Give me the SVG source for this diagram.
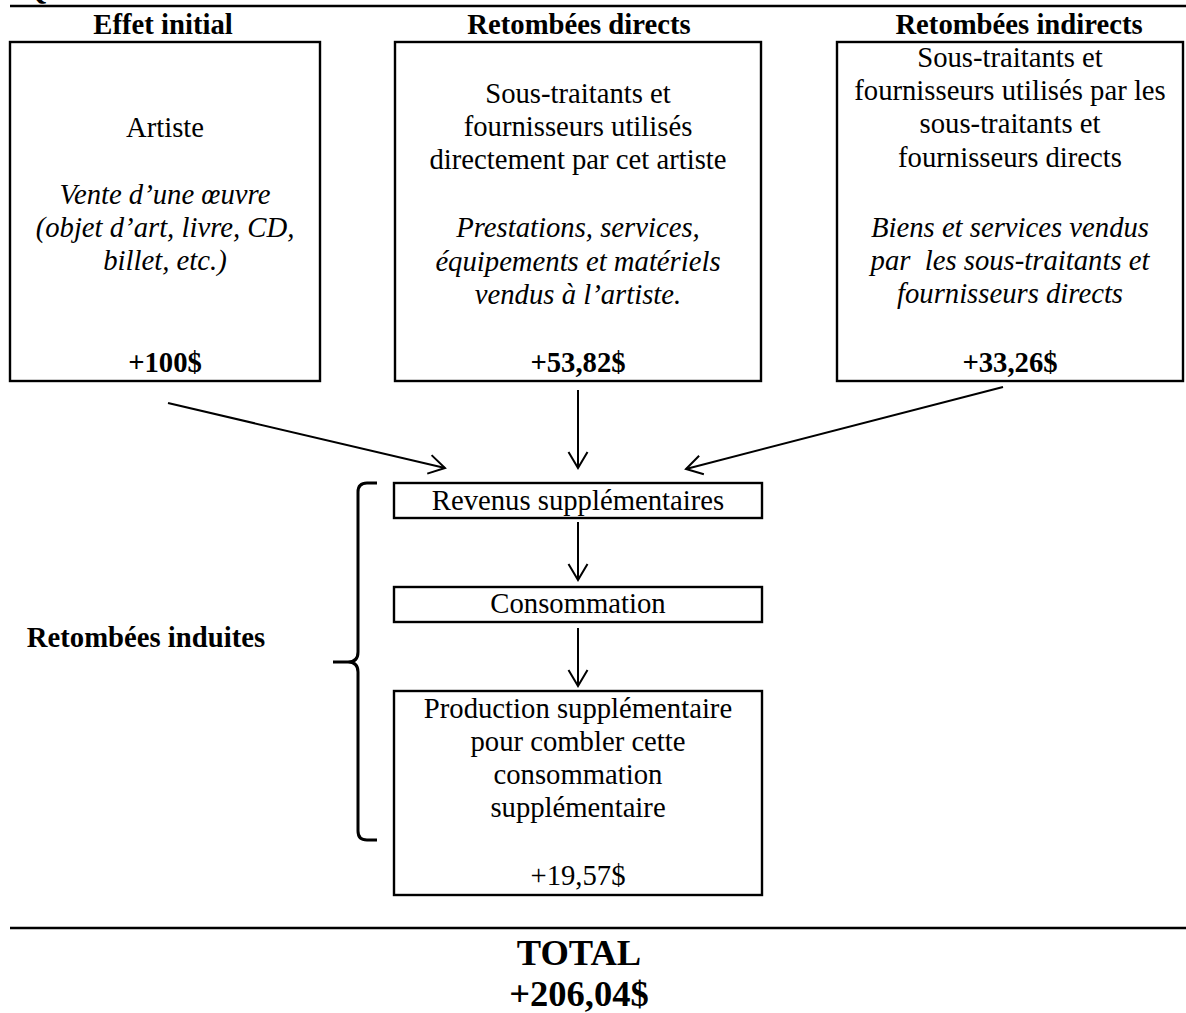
<svg xmlns="http://www.w3.org/2000/svg" width="1186" height="1013" viewBox="0 0 1186 1013">
<style>
text{font-family:"Liberation Serif","Times New Roman",serif;font-size:28.7px;fill:#000;text-anchor:middle}
.b{font-weight:bold}
.i{font-style:italic}
.box{fill:#fff;stroke:#000;stroke-width:2.4}
.rule{stroke:#000;stroke-width:2.5}
.conn{stroke:#000;stroke-width:2;fill:none}
</style>
<defs>
<marker id="arr" viewBox="-20 -12 24 24" refX="0" refY="0" markerWidth="24" markerHeight="24" markerUnits="userSpaceOnUse" orient="auto">
<path d="M-16,-9.5 L0,0 L-16,9.5" fill="none" stroke="#000" stroke-width="2" stroke-linejoin="miter"/>
</marker>
</defs>
<rect width="1186" height="1013" fill="#fff"/>
<text class="b" x="36" y="-1">Q</text>
<line class="rule" x1="10" y1="6" x2="1186" y2="6"/>
<g id="headers">
<text class="b" x="163" y="34">Effet initial</text>
<text class="b" x="579" y="34">Retombées directs</text>
<text class="b" x="1019" y="34">Retombées indirects</text>
</g>
<g id="node-initial">
<rect class="box" x="10" y="42" width="310" height="339"/>
<text x="165" y="137">Artiste</text>
<text class="i" x="165" y="204">Vente d’une œuvre</text>
<text class="i" x="165" y="237">(objet d’art, livre, CD,</text>
<text class="i" x="165" y="270">billet, etc.)</text>
<text class="b" x="165" y="372">+100$</text>
</g>
<g id="node-directs">
<rect class="box" x="395" y="42" width="366" height="339"/>
<text x="578" y="103">Sous-traitants et</text>
<text x="578" y="136">fournisseurs utilisés</text>
<text x="578" y="169">directement par cet artiste</text>
<text class="i" x="578" y="237">Prestations, services,</text>
<text class="i" x="578" y="271">équipements et matériels</text>
<text class="i" x="578" y="304">vendus à l’artiste.</text>
<text class="b" x="578" y="372">+53,82$</text>
</g>
<g id="node-indirects">
<rect class="box" x="837" y="42" width="346" height="339"/>
<text x="1010" y="67">Sous-traitants et</text>
<text x="1010" y="100">fournisseurs utilisés par les</text>
<text x="1010" y="133">sous-traitants et</text>
<text x="1010" y="167">fournisseurs directs</text>
<text class="i" x="1010" y="237">Biens et services vendus</text>
<text class="i" x="1010" y="270" style="white-space:pre">par  les sous-traitants et</text>
<text class="i" x="1010" y="303">fournisseurs directs</text>
<text class="b" x="1010" y="372">+33,26$</text>
</g>
<g id="node-revenus">
<rect class="box" x="394" y="483" width="368" height="35"/>
<text x="578" y="510">Revenus supplémentaires</text>
</g>
<g id="node-consommation">
<rect class="box" x="394" y="587" width="368" height="35"/>
<text x="578" y="613">Consommation</text>
</g>
<g id="node-production">
<rect class="box" x="394" y="691" width="368" height="204"/>
<text x="578" y="718">Production supplémentaire</text>
<text x="578" y="751">pour combler cette</text>
<text x="578" y="784">consommation</text>
<text x="578" y="817">supplémentaire</text>
<text x="578" y="885">+19,57$</text>
</g>
<g id="induites">
<path d="M377,483 H367 Q358,483 358,492 V652 Q358,662 348,662 H333 M348,662 Q358,662 358,672 V831 Q358,840 367,840 H377" fill="none" stroke="#000" stroke-width="3"/>
<text class="b" x="146" y="647">Retombées induites</text>
</g>
<g id="connectors">
<line class="conn" x1="168" y1="403" x2="445" y2="468" marker-end="url(#arr)"/>
<line class="conn" x1="578" y1="390" x2="578" y2="468" marker-end="url(#arr)"/>
<line class="conn" x1="1003" y1="387" x2="686" y2="469" marker-end="url(#arr)"/>
<line class="conn" x1="578" y1="522" x2="578" y2="580" marker-end="url(#arr)"/>
<line class="conn" x1="578" y1="628" x2="578" y2="686" marker-end="url(#arr)"/>
</g>
<line class="rule" x1="10" y1="928" x2="1186" y2="928"/>
<g id="total">
<text class="b" x="579" y="965" style="font-size:36.5px">TOTAL</text>
<text class="b" x="579" y="1006" style="font-size:36.5px">+206,04$</text>
</g>
</svg>
